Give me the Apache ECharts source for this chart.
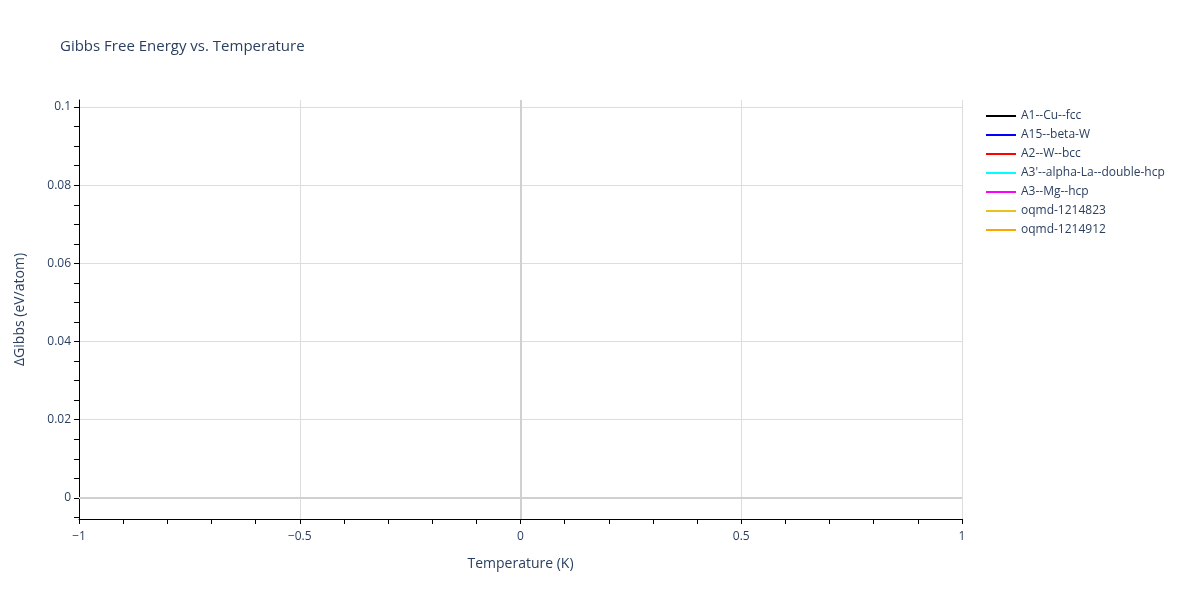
<!DOCTYPE html>
<html>
<head>
<meta charset="utf-8">
<script src="https://cdn.jsdelivr.net/npm/echarts@6/dist/echarts.min.js"></script>
<style>
	html, body { margin: 0; padding: 0; background: #fff; }
	#main { width: 1200px; height: 600px; }
</style>
</head>
<body>
<div id="main"></div>
<script>
// phases in the legend; the curves have no points in the source picture
var phaseNames = ['A1--Cu--fcc', 'A15--beta-W', 'A2--W--bcc', "A3'--alpha-La--double-hcp", 'A3--Mg--hcp', 'oqmd-1214823', 'oqmd-1214912'];
var phaseColors = ['#000000', '#0000ff', '#ff0000', '#00ffff', '#ff00ff', '#e8c21c', '#ffa500'];
var phaseData = [[], [], [], [], [], [], []];

var xTickLabels = [-1, -0.5, 0, 0.5, 1];
var yTickLabels = [0, 0.02, 0.04, 0.06, 0.08, 0.1];
var yTickMarks = [-0.005, 0, 0.005, 0.01, 0.015, 0.02, 0.025, 0.03, 0.035, 0.04, 0.045, 0.05,
	0.055, 0.06, 0.065, 0.07, 0.075, 0.08, 0.085, 0.09, 0.095, 0.1];
var yRange = [-0.0054, 0.1018];

var textColor = '#2a3f5f';
var font = '"Open Sans", Verdana, Arial, sans-serif';

var charts = echarts.init(document.getElementById('main'));

var series = phaseNames.map(function(name, i){
	var s = {
		name: name,
		type: 'line',
		showSymbol: false,
		symbol: 'none',
		color: phaseColors[i],
		lineStyle: { width: 2 },
		data: phaseData[i]
	};
	if (i == 0) {
		// plotly style zero lines
		s.markLine = {
			silent: true,
			symbol: 'none',
			label: { show: false },
			lineStyle: { color: '#d0d0d0', width: 2, type: 'solid' },
			data: [{ xAxis: 0 }, { yAxis: 0 }]
		};
	}
	return s;
});

var option = {
	backgroundColor: '#fff',
	animation: false,
	title: {
		text: 'Gibbs Free Energy vs. Temperature',
		left: 55,
		top: 34,
		textStyle: { fontFamily: font, fontSize: 15, fontWeight: 'normal', color: textColor }
	},
	legend: {
		orient: 'vertical',
		left: 981,
		top: 105,
		icon: 'rect',
		itemWidth: 30,
		itemHeight: 2,
		itemGap: 7,
		textStyle: { fontFamily: font, fontSize: 12, color: textColor },
		data: phaseNames
	},
	grid: { left: 79, right: 238, top: 100, bottom: 81, containLabel: false },
	xAxis: {
		type: 'value',
		min: xTickLabels[0],
		max: xTickLabels[xTickLabels.length - 1],
		interval: 0.5,
		name: 'Temperature (K)',
		nameLocation: 'middle',
		nameGap: 38,
		nameTextStyle: { fontFamily: font, fontSize: 14, color: textColor },
		axisLine: { show: true, onZero: false, lineStyle: { color: '#000', width: 1 } },
		axisTick: { show: true, inside: false, length: 5, lineStyle: { color: '#000' } },
		minorTick: { show: true, splitNumber: 5, length: 5, lineStyle: { color: '#000' } },
		axisLabel: {
			margin: 12,
			fontFamily: font, fontSize: 12, color: textColor,
			formatter: function(v){ return String(v).replace('-', '\u2212'); }
		},
		splitLine: { show: true, lineStyle: { color: '#dddddd', width: 1 } }
	},
	yAxis: [{
		type: 'value',
		min: yRange[0],
		max: yRange[1],
		name: '\u0394Gibbs (eV/atom)',
		nameLocation: 'middle',
		nameGap: 52,
		nameTextStyle: { fontFamily: font, fontSize: 14, color: textColor },
		axisLine: { show: true, onZero: false, lineStyle: { color: '#000', width: 1 } },
		axisTick: { show: true, inside: false, length: 5, customValues: yTickMarks, lineStyle: { color: '#000' } },
		axisLabel: { show: false },
		splitLine: { show: false }
	}, {
		type: 'value',
		position: 'left',
		min: yRange[0],
		max: yRange[1],
		axisLine: { show: false },
		axisTick: { show: false, customValues: yTickLabels },
		axisLabel: {
			show: true, margin: 8, customValues: yTickLabels,
			fontFamily: font, fontSize: 12, color: textColor
		},
		splitLine: { show: true, lineStyle: { color: '#dddddd', width: 1 } }
	}],
	series: series
};
charts.setOption(option);
</script>
</body>
</html>
